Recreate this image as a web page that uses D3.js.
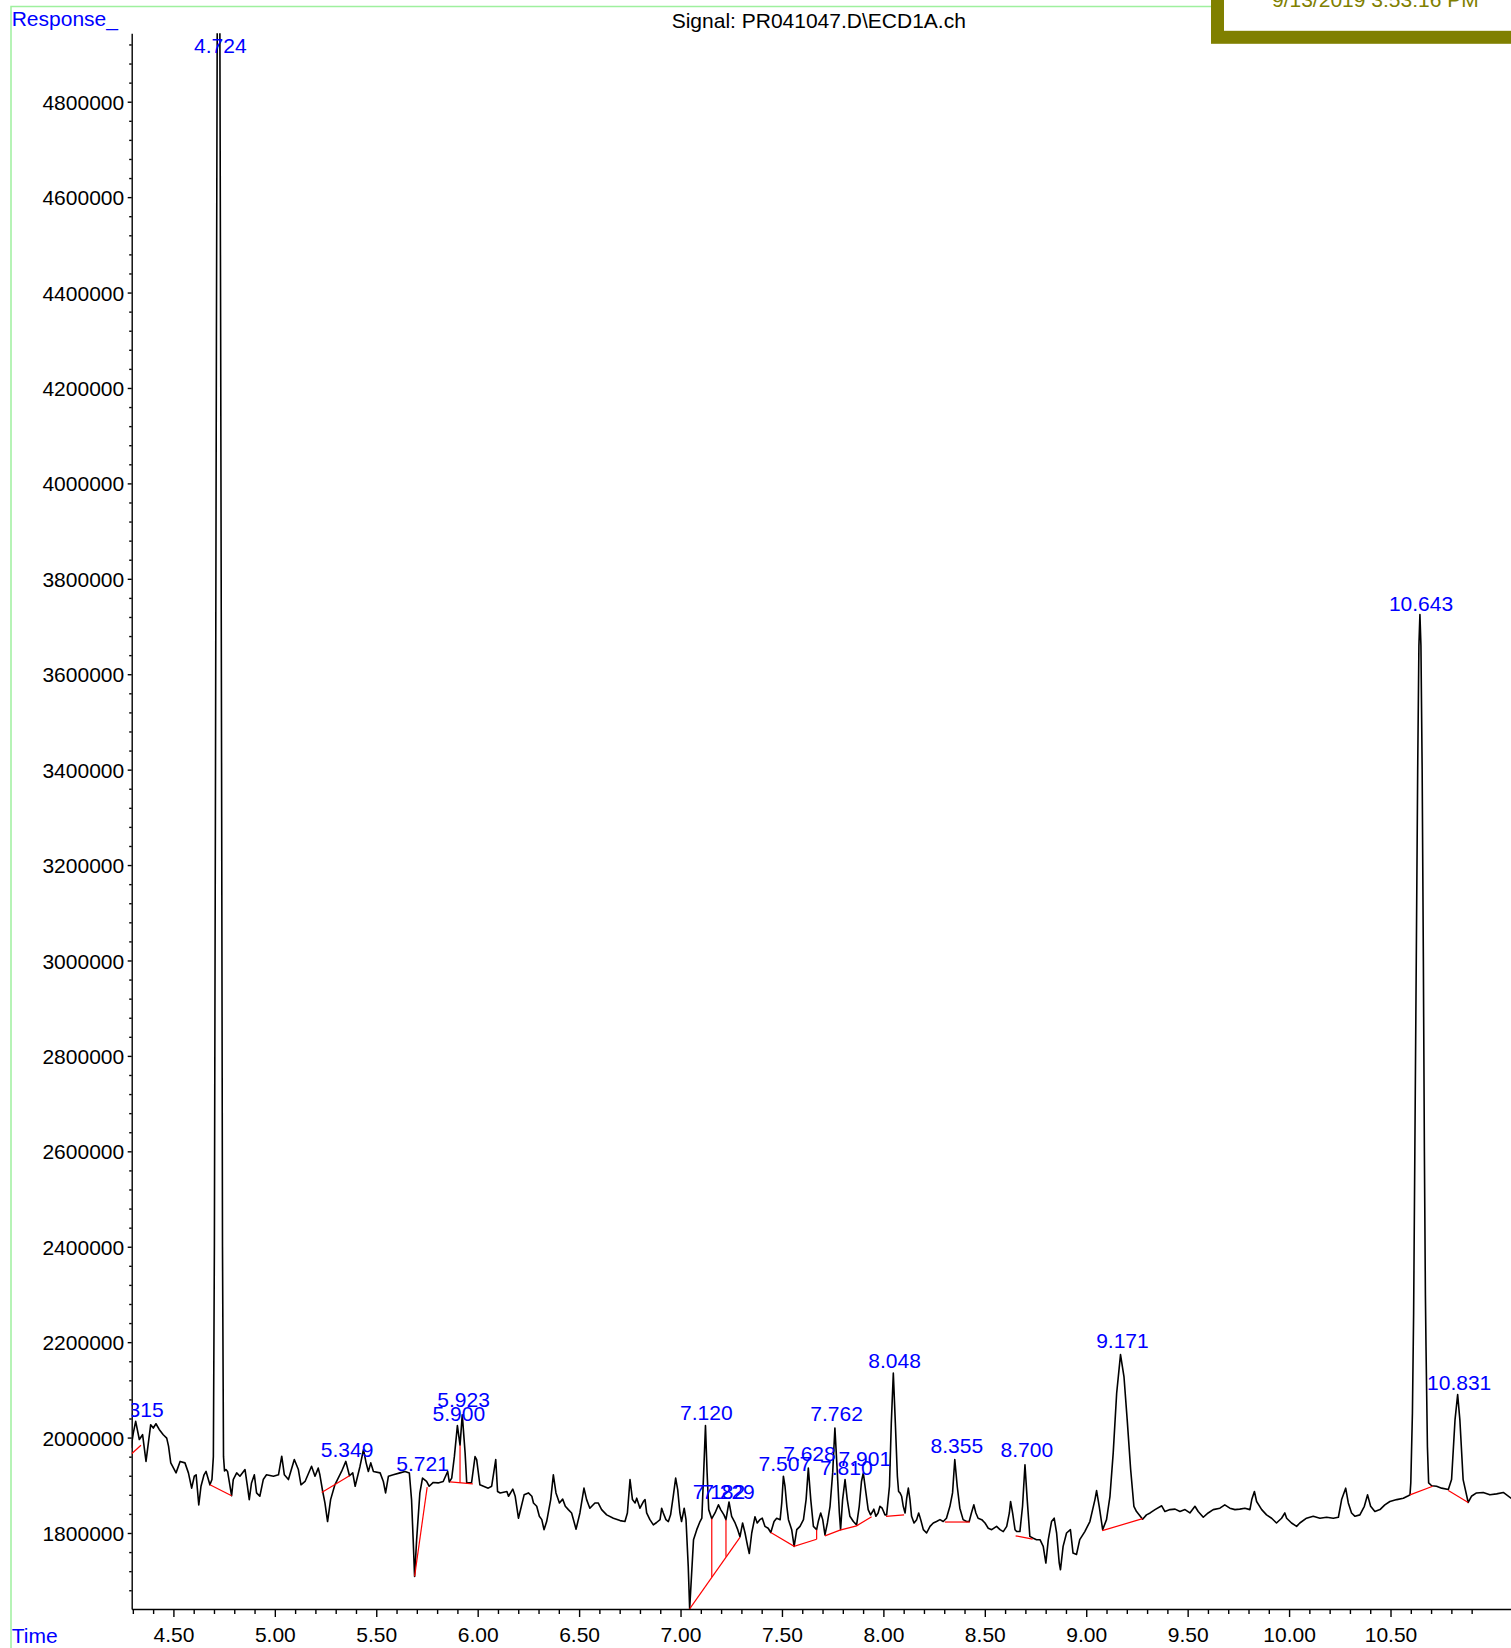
<!DOCTYPE html>
<html>
<head>
<meta charset="utf-8">
<script src="https://cdn.jsdelivr.net/npm/d3@7"></script>
<style>
  body { margin: 0; background: #fff; }
  svg { display: block; }
  text { font-family: "Liberation Sans", Arial, sans-serif; }
</style>
</head>
<body>
<svg id="chart" width="1511" height="1648"></svg>
<script>
// chromatogram signal, [time (min), response]
const trace = [
  [4.291,1978e3],[4.302,2009e3],[4.314,2034e3],[4.332,1996e3],[4.348,2006e3],[4.365,1950e3],
  [4.388,2027e3],[4.401,2020e3],[4.414,2029e3],[4.430,2017e3],[4.450,2006e3],[4.467,1999e3],
  [4.476,1982e3],[4.487,1947e3],[4.513,1926e3],[4.533,1950e3],[4.557,1947e3],[4.574,1926e3],
  [4.590,1894e3],[4.603,1919e3],[4.612,1922e3],[4.625,1859e3],[4.636,1898e3],[4.651,1922e3],
  [4.661,1929e3],[4.680,1901e3],[4.690,1912e3],[4.697,1960e3],[4.702,2400e3],[4.707,3300e3],
  [4.712,4300e3],[4.716,4960e3],[4.729,4960e3],[4.733,4300e3],[4.738,3300e3],[4.742,2400e3],
  [4.747,1960e3],[4.752,1930e3],[4.759,1933e3],[4.767,1929e3],[4.787,1878e3],[4.795,1912e3],
  [4.812,1926e3],[4.828,1919e3],[4.853,1933e3],[4.864,1901e3],[4.874,1870e3],[4.885,1905e3],
  [4.899,1922e3],[4.910,1884e3],[4.926,1877e3],[4.943,1912e3],[4.959,1922e3],[4.993,1919e3],
  [5.018,1922e3],[5.034,1961e3],[5.047,1922e3],[5.067,1912e3],[5.096,1954e3],[5.116,1933e3],
  [5.129,1901e3],[5.149,1908e3],[5.181,1940e3],[5.198,1919e3],[5.214,1936e3],[5.222,1922e3],
  [5.236,1887e3],[5.247,1863e3],[5.260,1824e3],[5.275,1870e3],[5.296,1901e3],[5.329,1929e3],
  [5.350,1950e3],[5.368,1920e3],[5.384,1926e3],[5.396,1898e3],[5.420,1940e3],[5.437,1975e3],
  [5.450,1947e3],[5.461,1929e3],[5.473,1947e3],[5.486,1929e3],[5.519,1926e3],[5.535,1908e3],
  [5.546,1884e3],[5.560,1919e3],[5.584,1922e3],[5.617,1926e3],[5.642,1929e3],[5.663,1926e3],
  [5.674,1870e3],[5.682,1786e3],[5.689,1709e3],[5.699,1786e3],[5.715,1884e3],[5.728,1915e3],
  [5.748,1908e3],[5.761,1898e3],[5.781,1906e3],[5.805,1905e3],[5.830,1908e3],[5.852,1929e3],
  [5.860,1907e3],[5.872,1915e3],[5.885,1960e3],[5.900,2025e3],[5.913,1984e3],[5.924,2048e3],
  [5.938,1968e3],[5.946,1905e3],[5.970,1906e3],[5.987,1960e3],[5.995,1954e3],[6.011,1901e3],
  [6.052,1894e3],[6.069,1898e3],[6.089,1954e3],[6.098,1887e3],[6.111,1884e3],[6.144,1887e3],
  [6.152,1877e3],[6.173,1892e3],[6.185,1877e3],[6.201,1831e3],[6.213,1852e3],[6.229,1880e3],
  [6.250,1884e3],[6.267,1877e3],[6.275,1863e3],[6.291,1856e3],[6.304,1835e3],[6.316,1828e3],
  [6.327,1807e3],[6.340,1824e3],[6.360,1870e3],[6.373,1922e3],[6.386,1884e3],[6.403,1863e3],
  [6.419,1871e3],[6.432,1856e3],[6.447,1849e3],[6.463,1842e3],[6.485,1808e3],[6.504,1842e3],
  [6.524,1894e3],[6.537,1870e3],[6.553,1852e3],[6.578,1863e3],[6.594,1863e3],[6.611,1849e3],
  [6.636,1838e3],[6.669,1831e3],[6.702,1826e3],[6.726,1824e3],[6.738,1842e3],[6.751,1912e3],
  [6.763,1870e3],[6.776,1863e3],[6.784,1873e3],[6.800,1852e3],[6.817,1866e3],[6.825,1870e3],
  [6.833,1842e3],[6.849,1828e3],[6.866,1817e3],[6.882,1822e3],[6.899,1828e3],[6.907,1852e3],
  [6.915,1842e3],[6.928,1828e3],[6.940,1824e3],[6.951,1838e3],[6.964,1877e3],[6.976,1915e3],
  [6.986,1891e3],[6.997,1842e3],[7.005,1824e3],[7.018,1852e3],[7.027,1828e3],[7.038,1730e3],
  [7.045,1641e3],[7.064,1786e3],[7.080,1807e3],[7.096,1824e3],[7.105,1831e3],[7.114,1926e3],
  [7.123,2025e3],[7.131,1926e3],[7.139,1849e3],[7.154,1830e3],[7.170,1842e3],[7.187,1859e3],
  [7.198,1849e3],[7.214,1838e3],[7.224,1828e3],[7.239,1865e3],[7.252,1835e3],[7.269,1821e3],
  [7.282,1807e3],[7.293,1792e3],[7.306,1821e3],[7.318,1800e3],[7.331,1772e3],[7.339,1757e3],
  [7.351,1800e3],[7.367,1834e3],[7.378,1821e3],[7.391,1828e3],[7.403,1831e3],[7.416,1814e3],
  [7.432,1810e3],[7.445,1801e3],[7.461,1824e3],[7.474,1831e3],[7.491,1828e3],[7.499,1863e3],
  [7.507,1919e3],[7.515,1898e3],[7.524,1856e3],[7.532,1828e3],[7.548,1807e3],[7.560,1772e3],
  [7.573,1807e3],[7.589,1814e3],[7.606,1828e3],[7.619,1870e3],[7.630,1936e3],[7.642,1870e3],
  [7.655,1814e3],[7.671,1807e3],[7.679,1824e3],[7.691,1842e3],[7.701,1828e3],[7.712,1796e3],
  [7.724,1821e3],[7.737,1856e3],[7.750,1926e3],[7.761,2020e3],[7.773,1926e3],[7.783,1842e3],
  [7.789,1807e3],[7.799,1870e3],[7.811,1912e3],[7.822,1870e3],[7.835,1835e3],[7.852,1824e3],
  [7.868,1817e3],[7.881,1856e3],[7.892,1908e3],[7.901,1926e3],[7.914,1884e3],[7.925,1849e3],
  [7.937,1838e3],[7.947,1845e3],[7.953,1850e3],[7.963,1835e3],[7.974,1842e3],[7.983,1856e3],
  [7.994,1852e3],[8.008,1838e3],[8.016,1838e3],[8.030,1898e3],[8.039,2030e3],[8.049,2135e3],
  [8.059,2030e3],[8.069,1919e3],[8.075,1887e3],[8.082,1884e3],[8.090,1877e3],[8.098,1856e3],
  [8.107,1842e3],[8.115,1873e3],[8.123,1894e3],[8.131,1870e3],[8.139,1835e3],[8.151,1821e3],
  [8.164,1828e3],[8.174,1842e3],[8.184,1828e3],[8.197,1807e3],[8.213,1800e3],[8.230,1814e3],
  [8.246,1821e3],[8.262,1824e3],[8.279,1828e3],[8.295,1824e3],[8.311,1831e3],[8.328,1856e3],
  [8.341,1884e3],[8.352,1954e3],[8.364,1898e3],[8.377,1852e3],[8.393,1828e3],[8.410,1824e3],
  [8.423,1824e3],[8.434,1842e3],[8.446,1859e3],[8.456,1842e3],[8.467,1831e3],[8.485,1828e3],
  [8.501,1821e3],[8.517,1810e3],[8.534,1807e3],[8.558,1814e3],[8.575,1807e3],[8.591,1803e3],
  [8.608,1814e3],[8.621,1842e3],[8.627,1866e3],[8.637,1842e3],[8.649,1807e3],[8.657,1803e3],
  [8.673,1803e3],[8.686,1856e3],[8.698,1943e3],[8.709,1870e3],[8.722,1793e3],[8.739,1789e3],
  [8.755,1786e3],[8.772,1786e3],[8.788,1772e3],[8.801,1737e3],[8.813,1786e3],[8.829,1824e3],
  [8.842,1831e3],[8.854,1800e3],[8.867,1737e3],[8.873,1723e3],[8.886,1772e3],[8.903,1800e3],
  [8.922,1807e3],[8.935,1758e3],[8.952,1755e3],[8.968,1786e3],[8.993,1803e3],[9.018,1824e3],
  [9.043,1870e3],[9.051,1889e3],[9.064,1856e3],[9.081,1807e3],[9.100,1828e3],[9.117,1877e3],
  [9.133,1968e3],[9.150,2093e3],[9.169,2174e3],[9.186,2128e3],[9.202,2037e3],[9.219,1933e3],
  [9.235,1856e3],[9.248,1845e3],[9.278,1829e3],[9.297,1838e3],[9.315,1842e3],[9.339,1849e3],
  [9.372,1857e3],[9.388,1845e3],[9.413,1849e3],[9.438,1850e3],[9.462,1845e3],[9.487,1849e3],
  [9.511,1842e3],[9.536,1856e3],[9.552,1845e3],[9.577,1833e3],[9.601,1842e3],[9.626,1849e3],
  [9.659,1852e3],[9.683,1859e3],[9.708,1852e3],[9.733,1849e3],[9.757,1850e3],[9.782,1852e3],
  [9.807,1849e3],[9.816,1870e3],[9.829,1887e3],[9.840,1866e3],[9.865,1849e3],[9.889,1838e3],
  [9.914,1831e3],[9.938,1821e3],[9.963,1831e3],[9.979,1842e3],[9.988,1831e3],[10.012,1821e3],
  [10.037,1814e3],[10.053,1821e3],[10.086,1831e3],[10.119,1835e3],[10.152,1831e3],[10.185,1833e3],
  [10.218,1831e3],[10.243,1833e3],[10.259,1870e3],[10.279,1894e3],[10.292,1863e3],[10.308,1842e3],
  [10.325,1835e3],[10.349,1838e3],[10.371,1856e3],[10.387,1880e3],[10.402,1856e3],[10.423,1845e3],
  [10.448,1849e3],[10.472,1859e3],[10.497,1866e3],[10.531,1870e3],[10.563,1873e3],[10.588,1878e3],
  [10.596,1880e3],[10.600,1905e3],[10.608,2051e3],[10.614,2261e3],[10.620,2600e3],[10.627,3000e3],
  [10.634,3400e3],[10.640,3660e3],[10.645,3725e3],[10.650,3660e3],[10.656,3400e3],[10.662,3000e3],
  [10.667,2600e3],[10.672,2300e3],[10.675,2191e3],[10.682,1981e3],[10.688,1905e3],[10.703,1899e3],
  [10.727,1898e3],[10.752,1894e3],[10.785,1891e3],[10.801,1912e3],[10.818,2037e3],[10.831,2090e3],
  [10.842,2037e3],[10.858,1912e3],[10.883,1864e3],[10.899,1877e3],[10.924,1884e3],[10.957,1885e3],
  [10.990,1880e3],[11.023,1882e3],[11.056,1885e3],[11.094,1873e3],[11.110,1873e3]
];

// integration baselines (red), each a polyline of [time, response]
const baselines = [
  [[4.294,1966e3],[4.340,1984e3]],
  [[4.680,1901e3],[4.787,1878e3]],
  [[5.231,1885e3],[5.368,1920e3]],
  [[5.689,1709e3],[5.751,1896e3]],
  [[5.864,1907e3],[5.976,1903e3]],
  [[7.045,1641e3],[7.293,1791e3]],
  [[7.445,1801e3],[7.560,1772e3],[7.671,1787e3]],
  [[7.712,1794e3],[7.786,1806e3],[7.868,1815e3],[7.942,1834e3]],
  [[8.013,1835e3],[8.102,1838e3]],
  [[8.303,1823e3],[8.426,1823e3]],
  [[8.652,1794e3],[8.736,1787e3]],
  [[9.079,1805e3],[9.278,1830e3]],
  [[10.596,1880e3],[10.708,1898e3]],
  [[10.785,1889e3],[10.883,1864e3]]
];

// peak split drop lines: [time, top response, bottom response]
const dropLines = [
  [5.913, 1984e3, 1905e3],
  [7.154, 1830e3, 1708e3],
  [7.224, 1828e3, 1750e3],
  [7.671, 1807e3, 1787e3]
];

// peak retention-time labels and the response at which each label sits
const peakRT = ['4.315','4.724','5.349','5.721','5.900','5.923','7.120','7.182','7.229','7.507',
                '7.628','7.762','7.810','7.901','8.048','8.355','8.700','9.171','10.643','10.831'];
const peakLabelResp = [2044e3,4902e3,1960e3,1929e3,2034e3,2065e3,2036e3,1872e3,1872e3,1929e3,
                       1950e3,2034e3,1922e3,1940e3,2146e3,1968e3,1959e3,2188e3,3732e3,2100e3];

const xTicks = [4.5, 5.0, 5.5, 6.0, 6.5, 7.0, 7.5, 8.0, 8.5, 9.0, 9.5, 10.0, 10.5];
const yTicks = [1800000, 2000000, 2200000, 2400000, 2600000, 2800000, 3000000, 3200000,
                3400000, 3600000, 3800000, 4000000, 4200000, 4400000, 4600000, 4800000];

const titleText = 'Signal: PR041047.D\\ECD1A.ch';
const dateText = '9/13/2019 3:53:16 PM';

// --- layout ---
const W = 1511, H = 1648;
const plot = { left: 131.7, right: 1511, top: 33.3, bottom: 1609 };
const FONT = 21;

const svg = d3.select('#chart');
svg.append('rect').attr('width', W).attr('height', H).attr('fill', '#fff');

const x = d3.scaleLinear().domain([4.2944, 11.094]).range([plot.left, plot.right]);
const y = d3.scaleLinear().domain([1640700, 4943400]).range([plot.bottom, plot.top]);

// clip for signal and labels
const defs = svg.append('defs');
defs.append('clipPath').attr('id', 'plotClip')
  .append('rect')
  .attr('x', plot.left).attr('y', plot.top)
  .attr('width', plot.right - plot.left).attr('height', plot.bottom - plot.top);
defs.append('clipPath').attr('id', 'labelClip')
  .append('rect')
  .attr('x', plot.left).attr('y', 0)
  .attr('width', plot.right - plot.left).attr('height', plot.bottom);

// green page frame
svg.append('path')
  .attr('d', `M11,${H} V6.5 H1211`)
  .attr('fill', 'none')
  .attr('stroke', '#9ef09e')
  .attr('stroke-width', 1.5);

// olive header box (cut off at the top)
svg.append('rect')
  .attr('x', 1217.5).attr('y', -60)
  .attr('width', 320).attr('height', 97.3)
  .attr('fill', '#fff')
  .attr('stroke', '#808000')
  .attr('stroke-width', 13);
svg.append('text')
  .attr('x', 1272).attr('y', 6.5)
  .attr('font-size', FONT)
  .attr('fill', '#808000')
  .text(dateText);

// title and axis captions
svg.append('text')
  .attr('x', 671.7).attr('y', 28.3)
  .attr('font-size', FONT)
  .attr('fill', '#000')
  .text(titleText);
svg.append('text')
  .attr('x', 11.7).attr('y', 26)
  .attr('font-size', FONT)
  .attr('fill', '#0000ff')
  .text('Response_');
svg.append('text')
  .attr('x', 11.7).attr('y', 1643.3)
  .attr('font-size', FONT)
  .attr('fill', '#0000ff')
  .text('Time');

// --- axes ---
const yMinor = d3.range(1680000, 4943400, 40000).filter(v => v % 200000 !== 0);
const xMinor = d3.range(43, 111).map(v => v / 10).filter(v => Math.round(v * 10) % 5 !== 0);

const yAxisG = svg.append('g').attr('transform', `translate(${plot.left},0)`);
yAxisG.call(d3.axisLeft(y).tickValues(yTicks).tickFormat(d3.format('d')).tickSize(4).tickSizeOuter(0).tickPadding(3.5));
yAxisG.append('g').call(d3.axisLeft(y).tickValues(yMinor).tickFormat('').tickSize(2.5).tickSizeOuter(0))
  .select('.domain').remove();

const xAxisG = svg.append('g').attr('transform', `translate(0,${plot.bottom})`);
xAxisG.call(d3.axisBottom(x).tickValues(xTicks).tickFormat(d3.format('.2f')).tickSize(8).tickSizeOuter(0).tickPadding(10));
xAxisG.append('g').call(d3.axisBottom(x).tickValues(xMinor).tickFormat('').tickSize(5).tickSizeOuter(0))
  .select('.domain').remove();

svg.selectAll('.tick text')
  .attr('font-size', FONT)
  .attr('font-family', '"Liberation Sans", Arial, sans-serif')
  .attr('fill', '#000');
yAxisG.selectAll('.tick text').attr('dy', '0.36em');
svg.selectAll('.domain, .tick line').attr('stroke', '#000').attr('stroke-width', 1.4);

// --- signal ---
const line = d3.line().x(d => x(d[0])).y(d => y(d[1]));

const plotG = svg.append('g').attr('clip-path', 'url(#plotClip)');

plotG.append('path')
  .datum(trace)
  .attr('d', line)
  .attr('fill', 'none')
  .attr('stroke', '#000')
  .attr('stroke-width', 1.6)
  .attr('stroke-linejoin', 'round');

plotG.selectAll('path.baseline')
  .data(baselines)
  .enter()
  .append('path')
  .attr('class', 'baseline')
  .attr('d', line)
  .attr('fill', 'none')
  .attr('stroke', '#ff0000')
  .attr('stroke-width', 1.2);

plotG.selectAll('line.drop')
  .data(dropLines)
  .enter()
  .append('line')
  .attr('class', 'drop')
  .attr('x1', d => x(d[0])).attr('x2', d => x(d[0]))
  .attr('y1', d => y(d[1])).attr('y2', d => y(d[2]))
  .attr('stroke', '#ff0000')
  .attr('stroke-width', 1.2);

// peak labels
const labelG = svg.append('g').attr('clip-path', 'url(#labelClip)');
labelG.selectAll('text.peak')
  .data(peakRT.map((rt, i) => ({ rt, resp: peakLabelResp[i] })))
  .enter()
  .append('text')
  .attr('class', 'peak')
  .attr('x', d => x(+d.rt) + 1.5)
  .attr('y', d => y(d.resp))
  .attr('text-anchor', 'middle')
  .attr('font-size', FONT)
  .attr('fill', '#0000ff')
  .text(d => d.rt);
</script>
</body>
</html>
